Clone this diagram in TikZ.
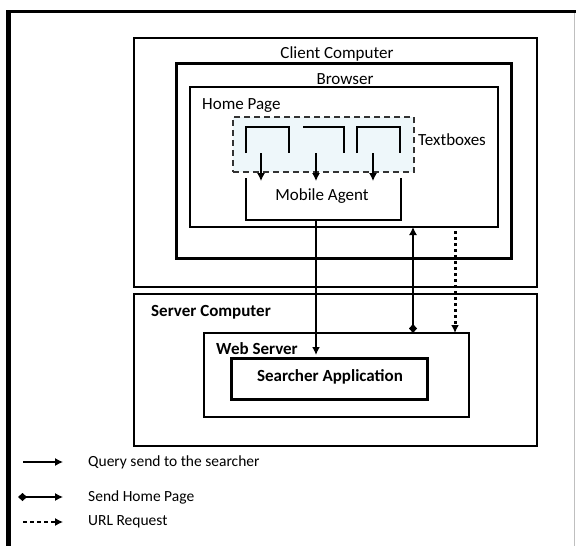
\documentclass[tikz,border=0pt]{standalone}
\usepackage{fontspec}
\setmainfont{Carlito}
\usetikzlibrary{arrows.meta}
\definecolor{tbfill}{RGB}{238,247,250}
\tikzset{
  txt/.style={font=\fontsize{17}{20}\selectfont, inner sep=0pt},
  ltxt/.style={font=\fontsize{15.5}{18}\selectfont, inner sep=0pt},
  btxt/.style={font=\fontsize{17}{20}\selectfont\bfseries, inner sep=0pt},
  frame/.style={draw=none, inner sep=0pt, outer sep=0pt},
  tip/.style={-{Latex[length=8pt,width=8pt]}},
  dtip/.style={{Diamond[length=9pt,width=8pt]}-{Latex[length=8pt,width=8pt]}},
}
\begin{document}
\begin{tikzpicture}[x=1pt,y=-1pt]
\useasboundingbox (0,0) rectangle (576,546);
% outer frame
\draw[line width=3pt] (6,11.5) -- (576,11.5);
\draw[line width=5pt] (8.5,10) -- (8.5,546);
\draw[line width=1pt, black!25] (574,13) -- (574,546);

% client side
\node[frame, draw, line width=2pt, minimum width=403pt, minimum height=249pt] (cc) at (335.5,162.5) {};
\node[frame, draw, line width=3pt, minimum width=335pt, minimum height=195pt] (br) at (343.5,160.5) {};
\node[frame, draw, line width=2.5pt, minimum width=308pt, minimum height=140pt] (hp) at (344,157) {};
\node[frame, draw=black!80, fill=tbfill, dashed, dash pattern=on 6pt off 4pt, line width=1.6pt, minimum width=181pt, minimum height=55pt] (tb) at (323.5,144.5) {};
\node[frame, minimum width=43pt, minimum height=26pt] (tb1) at (267.5,140) {};
\node[frame, minimum width=41pt, minimum height=26pt] (tb2) at (323.5,140) {};
\node[frame, minimum width=43pt, minimum height=26pt] (tb3) at (378.5,140) {};
\draw[line width=1.2pt] (tb1.south west) |- (tb1.north east) -- (tb1.south east);
\draw[line width=1.2pt] (tb2.north west) -- (tb2.north east) -- (tb2.south east);
\draw[line width=1.2pt] (tb3.south west) |- (tb3.north east) -- (tb3.south east);
\node[frame, minimum width=155pt, minimum height=42pt] (ma) at (323.5,199) {};
\draw[line width=1.2pt] (ma.north west) |- (ma.south east) -- (ma.north east);

\node[txt] (lcc) at (337,54) {Client Computer};
\node[txt] (lbr) at (345,79) {Browser};
\node[txt, anchor=west] (lhp) at (202,106) {Home Page};
\node[txt, anchor=west] (ltb) at (418,140) {Textboxes};
\node[txt] (lma) at (322,196) {Mobile Agent};

% arrows textboxes -> mobile agent
\coordinate (a1) at (261,181);
\coordinate (a2) at (316,181);
\coordinate (a3) at (373,181);
\draw[tip, line width=1.2pt] (tb1.south -| a1) -- (a1);
\draw[tip, line width=1.2pt] (tb2.south -| a2) -- (a2);
\draw[tip, line width=1.2pt] (tb3.south -| a3) -- (a3);

% server side
\node[frame, draw, line width=2pt, minimum width=403pt, minimum height=152pt] (sc) at (335.5,370) {};
\node[frame, draw, line width=1.8pt, minimum width=265pt, minimum height=84pt] (ws) at (336.5,375) {};
\node[frame, draw, line width=3pt, minimum width=196pt, minimum height=41pt] (sa) at (329,378.5) {};
\node[btxt, anchor=west] (lsc) at (151,312) {Server Computer};
\node[btxt, anchor=west] (lws) at (216,349) {Web Server};
\node[btxt] (lsa) at (330,377) {Searcher Application};

% connectors
\coordinate (qx) at (316,0);
\coordinate (hx) at (413,0);
\coordinate (ux) at (455,0);
\draw[tip, line width=2.4pt] (ma.south -| qx) -- ([yshift=3pt]sa.north -| qx);
\draw[dtip, line width=1.2pt] (ws.north -| hx) -- (hp.south -| hx);
\draw[tip, line width=3pt, dash pattern=on 3pt off 3pt] ([yshift=-4pt]hp.south -| ux) -- (ws.north -| ux);

% legend
\coordinate (l1a) at (23,462); \coordinate (l1b) at (63,462);
\coordinate (l2a) at (18,497); \coordinate (l2b) at (63,497);
\coordinate (l3a) at (23,522); \coordinate (l3b) at (63,522);
\draw[tip, line width=1.2pt] (l1a) -- (l1b);
\draw[dtip, line width=1.2pt] (l2a) -- (l2b);
\draw[tip, line width=1.2pt, dash pattern=on 4pt off 3pt] (l3a) -- (l3b);
\node[ltxt, anchor=west] (lg1) at (88,462) {Query send to the searcher};
\node[ltxt, anchor=west] (lg2) at (88,497) {Send Home Page};
\node[ltxt, anchor=west] (lg3) at (88,522) {URL Request};
\end{tikzpicture}
\end{document}
